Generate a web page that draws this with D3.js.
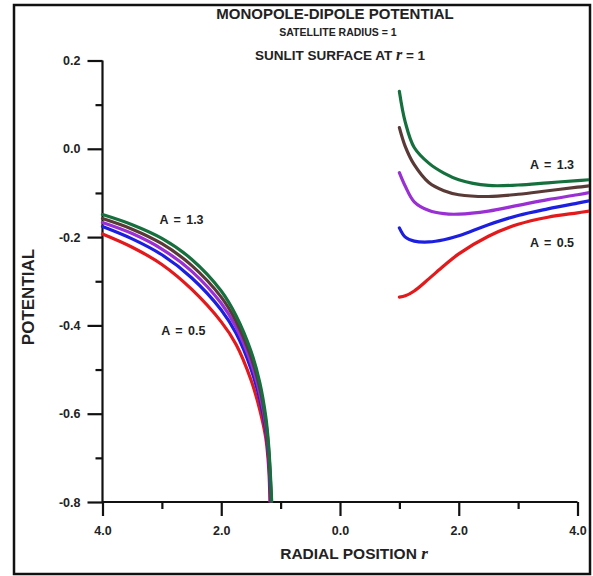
<!DOCTYPE html>
<html>
<head>
<meta charset="utf-8">
<script src="https://cdn.jsdelivr.net/npm/d3@7"></script>
<style>
  body { margin: 0; background: #fff; }
  svg { display: block; font-family: "Liberation Sans", Arial, sans-serif; }
</style>
</head>
<body>
<svg id="chart" width="593" height="576"></svg>
<script>
// values; A = 0.5 (red) ... A = 1.3 (green)
const seriesNames = ['A = 0.5', 'A = 0.7', 'A = 0.9', 'A = 1.1', 'A = 1.3'];
const seriesColors = ['#e3191b', '#1c1ee0', '#9a2fd3', '#5a3a36', '#15703d'];

// left branch (shadow side), radial distance r
const leftR = [
  [4.0, 3.5, 3.0, 2.5, 2.0, 1.75, 1.5, 1.35, 1.25, 1.2, 1.18],
  [4.0, 3.5, 3.0, 2.5, 2.0, 1.75, 1.5, 1.35, 1.25, 1.2, 1.17],
  [4.0, 3.5, 3.0, 2.5, 2.0, 1.75, 1.5, 1.35, 1.25, 1.2, 1.16],
  [4.0, 3.5, 3.0, 2.5, 2.0, 1.75, 1.5, 1.35, 1.25, 1.2, 1.155],
  [4.0, 3.5, 3.0, 2.5, 2.0, 1.75, 1.5, 1.35, 1.25, 1.2, 1.15],
];
const leftV = [
  [-0.193, -0.223, -0.262, -0.318, -0.392, -0.443, -0.523, -0.592, -0.655, -0.725, -0.800],
  [-0.176, -0.204, -0.240, -0.292, -0.365, -0.418, -0.498, -0.568, -0.637, -0.706, -0.800],
  [-0.167, -0.192, -0.227, -0.277, -0.350, -0.404, -0.484, -0.555, -0.626, -0.695, -0.800],
  [-0.158, -0.182, -0.215, -0.264, -0.336, -0.391, -0.471, -0.542, -0.617, -0.685, -0.800],
  [-0.149, -0.172, -0.203, -0.250, -0.322, -0.378, -0.458, -0.530, -0.607, -0.675, -0.800],
];

// right branch (sunlit side)
const rightR = [1.0, 1.1, 1.25, 1.5, 1.75, 2.0, 2.5, 3.0, 3.5, 4.0, 4.2];
const rightV = [
  [-0.336, -0.333, -0.322, -0.294, -0.265, -0.238, -0.198, -0.171, -0.155, -0.145, -0.141],
  [-0.179, -0.200, -0.209, -0.211, -0.206, -0.197, -0.172, -0.151, -0.136, -0.123, -0.118],
  [-0.054, -0.085, -0.120, -0.140, -0.147, -0.148, -0.141, -0.128, -0.115, -0.104, -0.099],
  [0.048, 0.005, -0.036, -0.077, -0.095, -0.104, -0.108, -0.103, -0.095, -0.087, -0.084],
  [0.130, 0.060, 0.003, -0.033, -0.055, -0.070, -0.083, -0.082, -0.077, -0.072, -0.070],
];

const xMajor = [-4, -2, 0, 2, 4];
const xMinor = [-3, -1, 1, 3];
const yMajor = [-0.8, -0.6, -0.4, -0.2, 0.0, 0.2];
const yMinor = [-0.7, -0.5, -0.3, -0.1, 0.1];

const svg = d3.select('#chart');

const x = d3.scaleLinear().domain([-4, 4]).range([102.5, 577.5]);
const y = d3.scaleLinear().domain([-0.8, 0.2]).range([502, 60.5]);

// outer frame
svg.append('rect')
  .attr('x', 14).attr('y', 5)
  .attr('width', 576).attr('height', 569)
  .attr('fill', 'none')
  .attr('stroke', '#111')
  .attr('stroke-width', 2.5);

svg.append('defs').append('clipPath').attr('id', 'plot-clip')
  .append('rect')
  .attr('x', 60).attr('y', 20)
  .attr('width', 529).attr('height', y(-0.8) - 20 + 0.5);

// y axis
const yAxisG = svg.append('g')
  .attr('transform', `translate(${x(-4)},0)`)
  .call(d3.axisLeft(y).tickValues(yMajor).tickSize(15).tickPadding(7)
    .tickFormat((d) => d.toFixed(1)));
svg.append('g')
  .attr('transform', `translate(${x(-4)},0)`)
  .call(d3.axisLeft(y).tickValues(yMinor).tickSize(7).tickFormat(''))
  .select('.domain').remove();

// x axis
const xAxisG = svg.append('g')
  .attr('transform', `translate(0,${y(-0.8)})`)
  .call(d3.axisBottom(x).tickValues(xMajor).tickSize(14).tickPadding(10)
    .tickFormat((d) => Math.abs(d).toFixed(1)));
svg.append('g')
  .attr('transform', `translate(0,${y(-0.8)})`)
  .call(d3.axisBottom(x).tickValues(xMinor).tickSize(7).tickFormat(''))
  .select('.domain').remove();

svg.selectAll('.domain, .tick line')
  .attr('stroke', '#111')
  .attr('stroke-width', 2.2);
yAxisG.select('.domain').attr('d', `M0,${y(0.2)}V${y(-0.8)}`);
xAxisG.select('.domain').attr('d', `M${x(-4)},0H${x(4)}`);

svg.selectAll('.tick text')
  .attr('fill', '#222')
  .style('font-size', '12.5px')
  .style('font-weight', 'bold');

// curves
const line = d3.line()
  .x((d) => x(d[0]))
  .y((d) => y(d[1]))
  .curve(d3.curveCatmullRom.alpha(0.5));

const curves = svg.append('g').attr('clip-path', 'url(#plot-clip)');

seriesNames.forEach((name, i) => {
  const left = leftR[i].map((r, j) => [-r, leftV[i][j]]);
  const right = rightR.map((r, j) => [r, rightV[i][j]]);
  [left, right].forEach((pts) => {
    curves.append('path')
      .datum(pts)
      .attr('d', line)
      .attr('fill', 'none')
      .attr('stroke', seriesColors[i])
      .attr('stroke-width', 3.2)
      .attr('stroke-linecap', 'round');
  });
});

// annotations
const notes = [
  { text: 'A = 1.3', r: -2.67, v: -0.16 },
  { text: 'A = 0.5', r: -2.64, v: -0.411 },
  { text: 'A = 1.3', r: 3.57, v: -0.036 },
  { text: 'A = 0.5', r: 3.57, v: -0.213 },
];
svg.selectAll('text.note')
  .data(notes)
  .enter()
  .append('text')
  .attr('class', 'note')
  .attr('x', (d) => x(d.r))
  .attr('y', (d) => y(d.v))
  .attr('dy', '0.35em')
  .attr('text-anchor', 'middle')
  .attr('fill', '#222')
  .style('font-size', '12.5px')
  .style('font-weight', 'bold')
  .style('word-spacing', '2px')
  .text((d) => d.text);

// titles
svg.append('text')
  .attr('x', 335).attr('y', 19)
  .attr('text-anchor', 'middle')
  .attr('fill', '#222')
  .style('font-size', '15px')
  .style('font-weight', 'bold')
  .text('MONOPOLE-DIPOLE POTENTIAL');

svg.append('text')
  .attr('x', 338).attr('y', 36)
  .attr('text-anchor', 'middle')
  .attr('fill', '#222')
  .style('font-size', '10.5px')
  .style('font-weight', 'bold')
  .text('SATELLITE RADIUS = 1');

const sub = svg.append('text')
  .attr('x', 340).attr('y', 60)
  .attr('text-anchor', 'middle')
  .attr('fill', '#222')
  .style('font-size', '13.5px')
  .style('font-weight', 'bold');
sub.append('tspan').text('SUNLIT SURFACE AT  ');
sub.append('tspan')
  .style('font-family', '"Liberation Serif", serif')
  .style('font-style', 'italic')
  .style('font-size', '16px')
  .text('r');
sub.append('tspan').text(' = 1');

// axis titles
const xt = svg.append('text')
  .attr('x', 354).attr('y', 559)
  .attr('text-anchor', 'middle')
  .attr('fill', '#222')
  .style('font-size', '15.5px')
  .style('font-weight', 'bold');
xt.append('tspan').text('RADIAL POSITION  ');
xt.append('tspan')
  .style('font-family', '"Liberation Serif", serif')
  .style('font-style', 'italic')
  .style('font-size', '17px')
  .text('r');

svg.append('text')
  .attr('transform', 'translate(34,297) rotate(-90)')
  .attr('text-anchor', 'middle')
  .attr('fill', '#222')
  .style('font-size', '17px')
  .style('font-weight', 'bold')
  .text('POTENTIAL');
</script>
</body>
</html>
